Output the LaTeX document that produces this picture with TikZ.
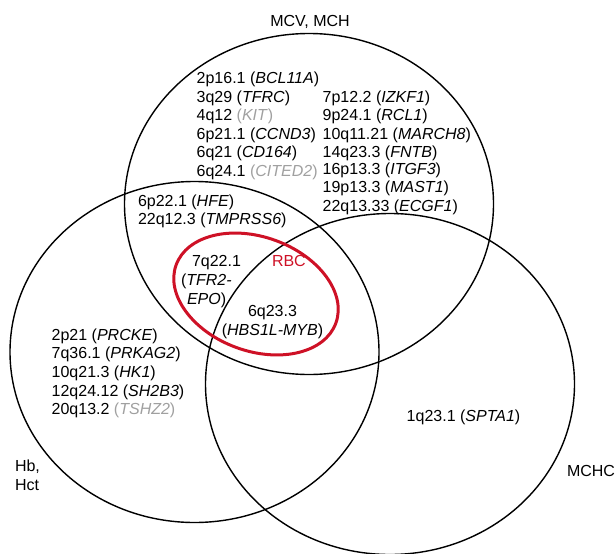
\documentclass[tikz,border=0pt]{standalone}
\usepackage{fontspec}
\setmainfont{Liberation Sans}
\usetikzlibrary{shapes.geometric}

\definecolor{rbcred}{RGB}{206,17,38}
\definecolor{weakgray}{RGB}{160,160,160}
\newcommand{\gene}[1]{(\textit{#1})}

\begin{document}
\begin{tikzpicture}[x=1pt, y=-1pt,
  every node/.style={inner sep=0pt, outer sep=0pt, anchor=base west, font=\fontsize{16}{18.6}\selectfont},
  trait/.style={draw, ellipse, anchor=center, line width=1.4pt, minimum width=369pt, minimum height=341pt},
  weak/.style={text=weakgray}]
\useasboundingbox (0,0) rectangle (616,554);

% the three trait sets and the RBC set
\node[trait] (mcvset) at (309,204) {};
\node[trait] (hbset) at (194.5,352) {};
\node[trait] (mchcset) at (390,384) {};
\node[draw=rbcred, ellipse, anchor=center, line width=3pt, minimum width=170pt, minimum height=114pt, rotate=-20] (rbcset) at (256,294) {};

% set labels
\node[anchor=base] (mcvlabel) at (310,26.7) {MCV, MCH};
\node (hblabel) at (15,471.7) {Hb,};
\node (hctlabel) at (15,490.3) {Hct};
\node (mchclabel) at (567,476.7) {MCHC};
\node[text=rbcred] (rbclabel) at (272,266.7) {RBC};

% MCV, MCH only
\node (bcl) at (196.7,83.5) {2p16.1 \gene{BCL11A}};
\node (tfrc) at (196.7,102.1) {3q29 \gene{TFRC}};
\node (kit) at (196.7,120.7) {4q12 {\color{weakgray}\gene{KIT}}};
\node (ccnd) at (196.7,139.3) {6p21.1 \gene{CCND3}};
\node (cd) at (196.7,157.9) {6q21 \gene{CD164}};
\node (cited) at (196.7,176.5) {6q24.1 {\color{weakgray}\gene{CITED2}}};

\node (izkf) at (322.7,102.1) {7p12.2 \gene{IZKF1}};
\node (rcl) at (322.7,120.7) {9p24.1 \gene{RCL1}};
\node (march) at (322.7,139.3) {10q11.21 \gene{MARCH8}};
\node (fntb) at (322.7,157.1) {14q23.3 \gene{FNTB}};
\node (itgf) at (322.7,174.3) {16p13.3 \gene{ITGF3}};
\node (mast) at (322.7,192.9) {19p13.3 \gene{MAST1}};
\node (ecgf) at (322.7,211.5) {22q13.33 \gene{ECGF1}};

% MCV, MCH and Hb, Hct
\node (hfe) at (138,206) {6p22.1 \gene{HFE}};
\node (tmprss) at (138,224.6) {22q12.3 \gene{TMPRSS6}};

% RBC
\node (tfrtop) at (192,266.7) {7q22.1};
\node (tfrmid) at (181,285.7) {(\textit{TFR2-}};
\node (tfrbot) at (187,304.3) {\textit{EPO})};
\node[anchor=base] (hbsnum) at (272.5,316.7) {6q23.3};
\node[anchor=base] (hbsname) at (272.5,335.3) {\gene{HBS1L-MYB}};

% Hb, Hct only
\node (prcke) at (51.7,340.3) {2p21 \gene{PRCKE}};
\node (prkag) at (51.7,358.9) {7q36.1 \gene{PRKAG2}};
\node (hk) at (51.7,377.5) {10q21.3 \gene{HK1}};
\node (sh2b3) at (51.7,396.1) {12q24.12 \gene{SH2B3}};
\node (tshz) at (51.7,414.7) {20q13.2 {\color{weakgray}\gene{TSHZ2}}};

% MCHC only
\node[anchor=base] (spta) at (463.5,421.7) {1q23.1 \gene{SPTA1}};
\end{tikzpicture}
\end{document}
